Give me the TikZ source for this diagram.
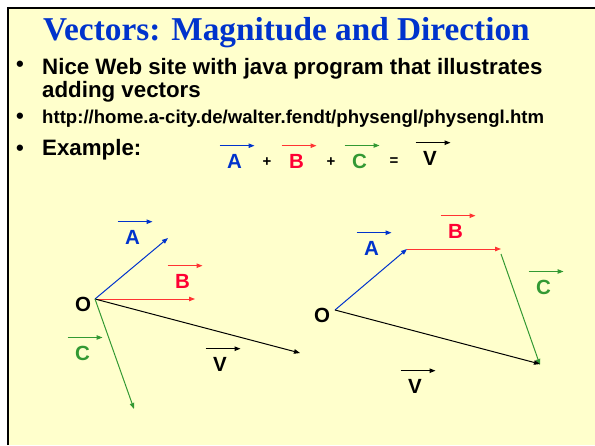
\documentclass[tikz,border=0pt]{standalone}
\usepackage{fontspec}
\setmainfont{Liberation Sans}
\newfontfamily\titlefont{Liberation Serif}
\usetikzlibrary{arrows.meta}
\definecolor{bg}{HTML}{FFFFCC}
\definecolor{vblue}{HTML}{0033CC}
\definecolor{vred}{HTML}{FF0033}
\definecolor{vredline}{HTML}{FF3333}
\definecolor{vgreen}{HTML}{339933}
\tikzset{
  vec/.style={line width=1pt,-{Triangle[length=6pt,width=4.5pt]}},
  ov/.style={line width=1pt,-{Triangle[length=6pt,width=4.5pt]}},
  letter/.style={anchor=base west,inner sep=0pt,font=\bfseries\fontsize{20.5}{20.5}\selectfont},
  op/.style={inner sep=0pt,font=\bfseries\fontsize{15}{15}\selectfont},
  bodytext/.style={anchor=base west,inner sep=0pt,font=\bfseries\fontsize{22.3}{25}\selectfont},
  bul/.style={inner sep=0pt,font=\bfseries\fontsize{22}{22}\selectfont},
}
\newcommand{\vlab}[5]{%
  \node[letter,text=#3] (#1) at (#2) {#4};
  \draw[ov,#5] ([xshift=-7.5pt,yshift=8pt]#1.north west) -- ++(35,0);}
\begin{document}
\begin{tikzpicture}[x=1pt,y=-1pt]
\useasboundingbox (0,0) rectangle (595,445);
\fill[white] (0,0) rectangle (595,445);
\fill[bg] (8,8) rectangle (595,445);
\draw[line width=2pt] (8,445) -- (8,8) -- (595,8);
% title
\node[anchor=base west,inner sep=0pt,text=vblue,font=\titlefont\bfseries\fontsize{33.3}{33}\selectfont] (title) at (43,40) {Vectors: Magnitude and Direction};
% bullets
\node[bul] (b1) at (20,66) {•};
\node[bodytext] (t1) at (42,74) {Nice Web site with java program that illustrates};
\node[bodytext] (t1b) at (42,97) {adding vectors};
\node[bul] (b2) at (20,118) {•};
\node[anchor=base west,inner sep=0pt,font=\bfseries\fontsize{18.6}{18.6}\selectfont] (t2) at (42,123) {http://home.a-city.de/walter.fendt/physengl/physengl.htm};
\node[bul] (b3) at (20,150) {•};
\node[bodytext] (t3) at (42,155) {Example:};
% equation
\vlab{eA}{227,168}{vblue}{A}{vblue}
\node[op] (p1) at (267,162) {+};
\vlab{eB}{289,168}{vred}{B}{vredline}
\node[op] (p2) at (331,162) {+};
\vlab{eC}{352,168}{vgreen}{C}{vgreen}
\node[op] (eq) at (394,162) {=};
\vlab{eV}{423,165}{black}{V}{black}
% left diagram
\node[letter] (O1) at (75,311) {O};
\coordinate (o1) at (95,299);
\coordinate (a1) at (168,238);
\coordinate (bb1) at (195,299);
\coordinate (v1) at (300,353);
\coordinate (c1) at (134,409);
\draw[vec,vblue] (o1) -- (a1);
\draw[vec,vredline] (o1) -- (bb1);
\draw[vec,black] (o1) -- (v1);
\draw[vec,vgreen] (o1) -- (c1);
\vlab{lA}{125,244}{vblue}{A}{vblue}
\vlab{lB}{175,288}{vred}{B}{vredline}
\vlab{lC}{75,360}{vgreen}{C}{vgreen}
\vlab{lV}{213,371}{black}{V}{black}
% right diagram
\node[letter] (O2) at (314,322) {O};
\coordinate (o2) at (335,310);
\coordinate (a2) at (407,249);
\coordinate (bb2) at (501,249);
\coordinate (c2s) at (501,254);
\coordinate (c2) at (540,365);
\coordinate (v2) at (540,364);
\draw[vec,vblue] (o2) -- (a2);
\draw[vec,vredline] (a2) -- (bb2);
\draw[vec,vgreen] (c2s) -- (c2);
\draw[vec,black] (o2) -- (v2);
\vlab{rA}{364,255}{vblue}{A}{vblue}
\vlab{rB}{448,238}{vred}{B}{vredline}
\vlab{rC}{536,294}{vgreen}{C}{vgreen}
\vlab{rV}{408,393}{black}{V}{black}
\end{tikzpicture}
\end{document}
